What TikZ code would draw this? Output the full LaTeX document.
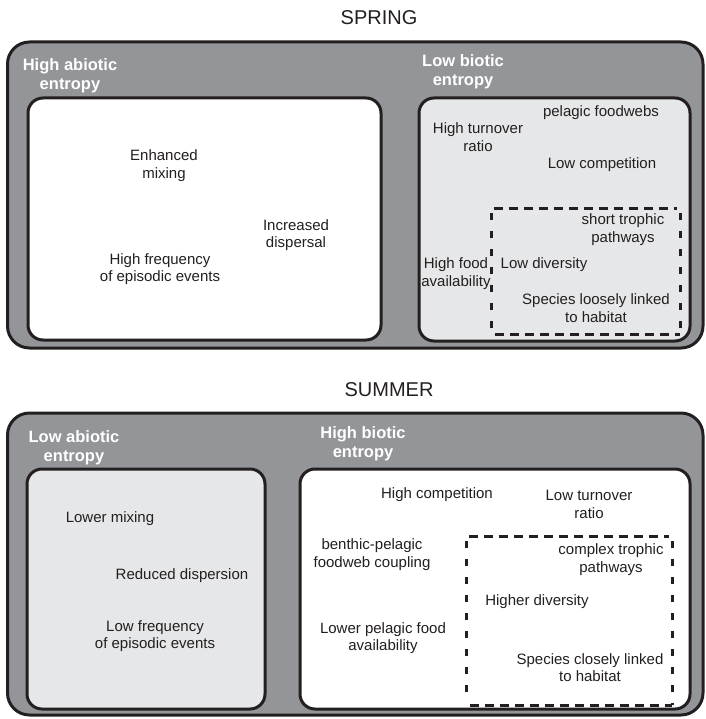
\documentclass[tikz,border=0pt]{standalone}
\usepackage{fontspec}
\setmainfont{Liberation Sans}
\definecolor{outerfill}{HTML}{939598}
\definecolor{lightfill}{HTML}{E6E7E8}
\definecolor{ink}{HTML}{231F20}
\begin{document}
\begin{tikzpicture}[x=1pt,y=-1pt,
  outerbox/.style={draw=ink, line width=3pt, fill=outerfill, rounded corners=22pt, inner sep=0pt},
  whitebox/.style={draw=ink, line width=3pt, fill=white, rounded corners=15pt, inner sep=0pt},
  greybox/.style={draw=ink, line width=3pt, fill=lightfill, rounded corners=15pt, inner sep=0pt},
  dashbox/.style={draw=none, inner sep=0pt},
  dashh/.style={draw=ink, line width=3pt, dash pattern=on 9pt off 6pt},
  dashv/.style={draw=ink, line width=3pt, dash pattern=on 7pt off 11pt},
  txt/.style={font=\fontsize{15}{17.5}\selectfont, text=ink, align=center, inner sep=0pt},
  head/.style={font=\bfseries\fontsize{16.5}{19}\selectfont, text=white, align=center, inner sep=0pt},
  ttl/.style={font=\fontsize{20}{24}\selectfont, text=ink, inner sep=0pt}]
\useasboundingbox (0,0) rectangle (705,719);

% ---------- SPRING ----------
\node[ttl] (springttl) at (379,18) {SPRING};
\node[outerbox, minimum width=695.5pt, minimum height=306pt] (springout) at (355.25,195) {};
\node[whitebox, minimum width=353pt, minimum height=242pt] (springleft) at (204.5,219) {};
\node[greybox, minimum width=271pt, minimum height=243pt] (springright) at (554.5,219.5) {};
\node[dashbox, minimum width=188pt, minimum height=125pt] (springdash) at (586,271.5) {};
\draw[dashh] ([xshift=2pt]springdash.north west) -- ([xshift=-3pt]springdash.north east);
\draw[dashh] ([xshift=3pt]springdash.south west) -- (springdash.south east);
\draw[dashv] ([yshift=-4pt]springdash.north west) -- ([yshift=6pt]springdash.south west);
\draw[dashv] ([yshift=-4pt]springdash.north east) -- (springdash.south east);

\node[head] (sh1) at (70,75.5) {High abiotic\\entropy};
\node[head] (sh2) at (463,72) {Low biotic\\entropy};

\node[txt] (s1) at (164,165.5) {Enhanced\\mixing};
\node[txt] (s2) at (296,235) {Increased\\dispersal};
\node[txt] (s3) at (160,269) {High frequency\\of episodic events};
\node[txt] (s4) at (601,113) {pelagic foodwebs};
\node[txt] (s5) at (478,137) {High turnover\\ratio};
\node[txt] (s6) at (602,165) {Low competition};
\node[txt] (s7) at (623,229.5) {short trophic\\pathways};
\node[txt] (s8) at (456,273.5) {High food\\availability};
\node[txt] (s9) at (544,265) {Low diversity};
\node[txt] (s10) at (596,308) {Species loosely linked\\to habitat};

% ---------- SUMMER ----------
\node[ttl] (summerttl) at (389,390) {SUMMER};
\node[outerbox, minimum width=695.5pt, minimum height=302pt] (summerout) at (355.25,564) {};
\node[greybox, minimum width=238pt, minimum height=240pt] (summerleft) at (146,589) {};
\node[whitebox, minimum width=390pt, minimum height=240pt] (summerright) at (495,589) {};
\node[dashbox, minimum width=205pt, minimum height=168pt] (summerdash) at (569.5,621) {};
\draw[dashh] ([xshift=2pt]summerdash.north west) -- ([xshift=-3pt]summerdash.north east);
\draw[dashh] ([xshift=3pt]summerdash.south west) -- (summerdash.south east);
\draw[dashv] ([yshift=-4pt]summerdash.north west) -- ([yshift=6pt]summerdash.south west);
\draw[dashv] ([yshift=-4pt]summerdash.north east) -- (summerdash.south east);

\node[head] (uh1) at (74,447.5) {Low abiotic\\entropy};
\node[head] (uh2) at (363,443.5) {High biotic\\entropy};

\node[txt] (u1) at (110,519) {Lower mixing};
\node[txt] (u2) at (182,576) {Reduced dispersion};
\node[txt] (u3) at (155,636) {Low frequency\\of episodic events};
\node[txt] (u4) at (437,495) {High competition};
\node[txt] (u5) at (589,504.5) {Low turnover\\ratio};
\node[txt] (u6) at (372,554.5) {benthic-pelagic\\foodweb coupling};
\node[txt] (u7) at (611,559.5) {complex trophic\\pathways};
\node[txt] (u8) at (537,602) {Higher diversity};
\node[txt] (u9) at (383,638) {Lower pelagic food\\availability};
\node[txt] (u10) at (590,667.5) {Species closely linked\\to habitat};
\end{tikzpicture}
\end{document}
